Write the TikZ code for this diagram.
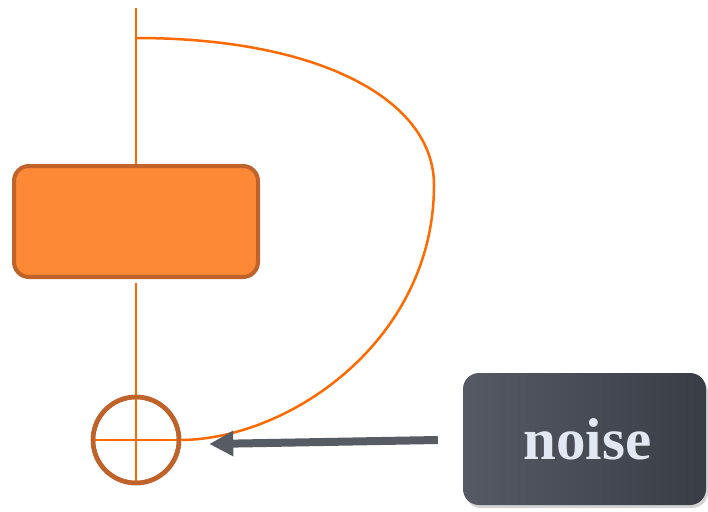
\documentclass[tikz,border=0pt]{standalone}
\usepackage{fontspec}
\usetikzlibrary{arrows.meta,shadows}
\newfontfamily\noisefont{Liberation Serif}
\definecolor{oline}{HTML}{FF6A00}
\definecolor{ofill}{HTML}{FD8835}
\definecolor{obord}{HTML}{C0632A}
\definecolor{gleft}{HTML}{555A65}
\definecolor{gright}{HTML}{393D46}
\definecolor{garrow}{HTML}{565B64}
\definecolor{ntext}{HTML}{E2E7F4}
\tikzset{
  wire/.style={draw=oline, line width=2.5pt},
  blockbox/.style={draw=obord, fill=ofill, line width=4pt, rounded corners=15pt,
    minimum width=244pt, minimum height=111pt, inner sep=0pt},
  sumnode/.style={circle, draw=obord, line width=4.5pt, minimum size=86pt, inner sep=0pt},
  noisebox/.style={rounded corners=16pt, left color=gleft, right color=gright,
    minimum width=243pt, minimum height=132pt, inner sep=0pt,
    drop shadow={shadow xshift=2pt, shadow yshift=-3pt, opacity=0.35}},
  noisearrow/.style={draw=garrow, line width=8pt,
    -{Triangle[length=24pt,width=24pt]}}
}
\begin{document}
\begin{tikzpicture}[x=1pt,y=-1pt]
\useasboundingbox (0,0) rectangle (708,511);
\node[blockbox] (block) at (136,221.5) {};
\node[sumnode] (sum) at (136,440) {};
\coordinate (top) at (136,8);
\coordinate (fb) at (136,38);
\coordinate (turn) at (434,185);
\draw[wire] (top) -- (block.north);
\draw[wire, shorten <=4pt] (block.south) -- (sum.south);
\draw[wire] (sum.west) -- (sum.east);
\draw[wire] (fb) .. controls (320,38) and (434,100) .. (turn)
  .. controls (434,340) and (290,439) .. (sum.east);
\node[sumnode] at (sum.center) {};
\node[noisebox] (noise) at (584.5,439) {};
\node[text=black!70, opacity=0.6, font=\noisefont\bfseries\fontsize{59}{59}\selectfont]
  at ([xshift=4.5pt,yshift=-1.5pt]noise.center) {noise};
\node[text=ntext, font=\noisefont\bfseries\fontsize{59}{59}\selectfont]
  (noiselabel) at ([xshift=3pt]noise.center) {noise};
\draw[noisearrow] ([xshift=-25pt,yshift=-1pt]noise.west) -- ([xshift=28pt,yshift=-4pt]sum.east);
\end{tikzpicture}
\end{document}
